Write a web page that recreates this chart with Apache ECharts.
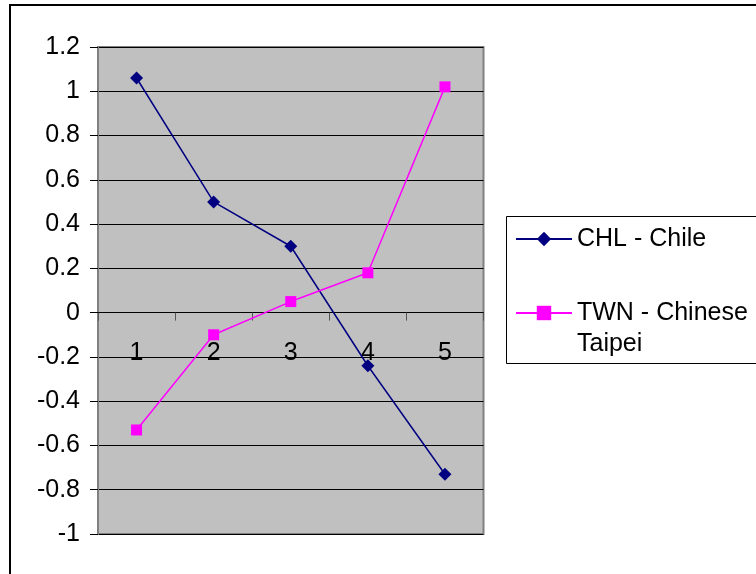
<!DOCTYPE html>
<html>
<head>
<meta charset="utf-8">
<script src="https://cdn.jsdelivr.net/npm/echarts@6/dist/echarts.min.js"></script>
<style>
html,body{margin:0;padding:0;background:#fff;}
#c{width:756px;height:574px;}
</style>
</head>
<body>
<div id="c"></div>
<script>
var categories = ['1', '2', '3', '4', '5'];
var chlName = 'CHL - Chile';
var chlValues = [1.06, 0.50, 0.30, -0.24, -0.73];
var twnName = 'TWN - Chinese Taipei';
var twnValues = [-0.53, -0.10, 0.05, 0.18, 1.02];
var yMin = -1, yMax = 1.2, yStep = 0.2;

var chart = echarts.init(document.getElementById('c'), null, {renderer: 'canvas'});
var font = 'Liberation Sans, Arial, sans-serif';
var fs = 25;
chart.setOption({
  animation: false,
  backgroundColor: '#fff',
  textStyle: {fontFamily: font},
  graphic: [
    {type: 'rect', z: -10, silent: true,
     shape: {x: 10, y: 5, width: 900, height: 700},
     style: {fill: '#fff', stroke: '#000', lineWidth: 2}},
    {type: 'rect', z: 0, silent: true,
     shape: {x: 506.5, y: 216.5, width: 400, height: 147},
     style: {fill: '#fff', stroke: '#000', lineWidth: 1}}
  ],
  grid: {
    left: 98, top: 47, right: 272.5, bottom: 40,
    show: true, backgroundColor: '#C0C0C0', borderColor: '#808080', borderWidth: 2
  },
  legend: {
    orient: 'vertical', left: 515, top: 223.5, padding: 0,
    itemWidth: 56, itemHeight: 18, itemGap: 12, itemTextGap: 5,
    data: [chlName, twnName],
    formatter: function (n) { return n === twnName ? '\nTWN - Chinese\nTaipei' : n; },
    textStyle: {fontFamily: font, fontSize: fs, color: '#000', lineHeight: 31}
  },
  xAxis: {
    type: 'category', data: categories, boundaryGap: true,
    axisLine: {onZero: true, lineStyle: {color: '#000', width: 1}},
    axisTick: {show: true, length: 8, lineStyle: {color: '#555'}},
    axisLabel: {fontFamily: font, fontSize: fs, color: '#000', margin: -193},
    splitLine: {show: false}
  },
  yAxis: {
    type: 'value', min: yMin, max: yMax, interval: yStep,
    axisLine: {show: true, lineStyle: {color: '#808080', width: 2}},
    axisTick: {show: true, length: 8, lineStyle: {color: '#000'}},
    axisLabel: {fontFamily: font, fontSize: fs, color: '#000', margin: 18,
      formatter: function (v) { return String(Math.round(v * 10) / 10); }},
    splitLine: {show: true, lineStyle: {color: '#000', width: 1}}
  },
  series: [
    {name: chlName, type: 'line', data: chlValues,
     symbol: 'diamond', symbolSize: 13,
     lineStyle: {color: '#000080', width: 1.5},
     itemStyle: {color: '#000080'}},
    {name: twnName, type: 'line', data: twnValues,
     symbol: 'rect', symbolSize: 11,
     lineStyle: {color: '#FF00FF', width: 1.5},
     itemStyle: {color: '#FF00FF'}}
  ]
});
</script>
</body>
</html>
